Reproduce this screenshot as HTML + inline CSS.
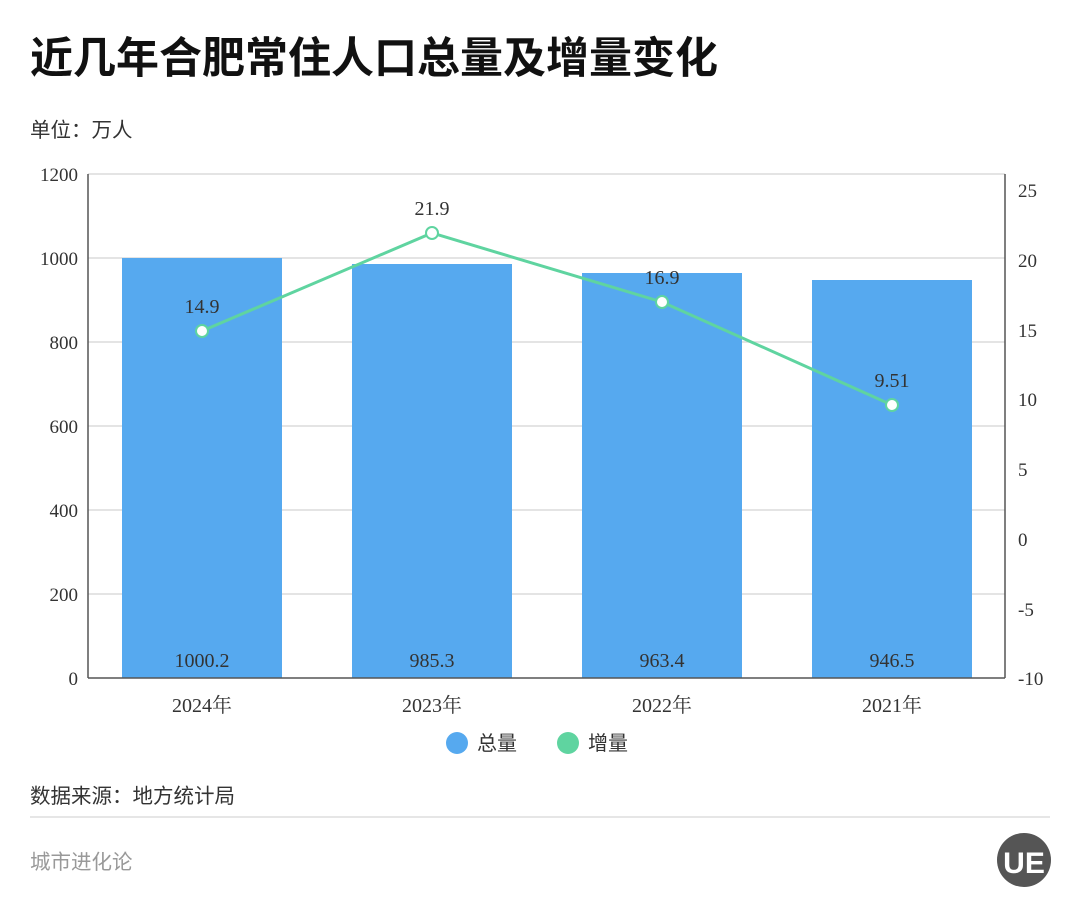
<!DOCTYPE html>
<html><head><meta charset="utf-8"><style>
body{margin:0;width:1080px;height:918px;background:#fff;overflow:hidden;font-family:"Liberation Serif","Noto Serif CJK SC",serif;}
</style></head><body>
<svg width="1080" height="918" xmlns="http://www.w3.org/2000/svg">
<text x="30" y="73" font-family="Liberation Sans, Noto Sans CJK SC, sans-serif" font-weight="bold" font-size="43" fill="#111">近几年合肥常住人口总量及增量变化</text>
<text x="30" y="137" font-family="Liberation Sans, Noto Sans CJK SC, sans-serif" font-size="20.5" fill="#333">单位：万人</text>
<g stroke="#dcdcdc" stroke-width="1.5">
<line x1="88" y1="174" x2="1005" y2="174"/><line x1="88" y1="258" x2="1005" y2="258"/><line x1="88" y1="342" x2="1005" y2="342"/><line x1="88" y1="426" x2="1005" y2="426"/><line x1="88" y1="510" x2="1005" y2="510"/><line x1="88" y1="594" x2="1005" y2="594"/>
</g>
<g fill="#56a9ef">
<rect x="122" y="258" width="160" height="420"/><rect x="352" y="264" width="160" height="414"/><rect x="582" y="273" width="160" height="405"/><rect x="812" y="280" width="160" height="398"/>
</g>
<g stroke="#555" stroke-width="1.5">
<line x1="88" y1="174" x2="88" y2="678"/><line x1="1005" y1="174" x2="1005" y2="678"/><line x1="88" y1="678" x2="1005" y2="678"/>
</g>
<g font-size="19" fill="#333" text-anchor="end" font-family="Liberation Serif, serif">
<text x="78" y="181">1200</text><text x="78" y="265">1000</text><text x="78" y="349">800</text><text x="78" y="433">600</text><text x="78" y="517">400</text><text x="78" y="601">200</text><text x="78" y="685">0</text>
</g>
<g font-size="19" fill="#333" font-family="Liberation Serif, serif">
<text x="1018" y="197">25</text><text x="1018" y="267">20</text><text x="1018" y="337">15</text><text x="1018" y="406">10</text><text x="1018" y="476">5</text><text x="1018" y="546">0</text><text x="1018" y="616">-5</text><text x="1018" y="685">-10</text>
</g>
<g font-size="20" fill="#333" text-anchor="middle" font-family="Liberation Serif, Noto Serif CJK SC, serif">
<text x="202" y="667">1000.2</text><text x="432" y="667">985.3</text><text x="662" y="667">963.4</text><text x="892" y="667">946.5</text>
<text x="202" y="712">2024年</text><text x="432" y="712">2023年</text><text x="662" y="712">2022年</text><text x="892" y="712">2021年</text>
<text x="202" y="313">14.9</text><text x="432" y="215">21.9</text><text x="662" y="284">16.9</text><text x="892" y="387">9.51</text>
</g>
<polyline points="202,331 432,233 662,302 892,405" fill="none" stroke="#5fd4a0" stroke-width="3"/>
<g fill="#fff" stroke="#5fd4a0" stroke-width="2">
<circle cx="202" cy="331" r="6"/><circle cx="432" cy="233" r="6"/><circle cx="662" cy="302" r="6"/><circle cx="892" cy="405" r="6"/>
</g>
<circle cx="457" cy="743" r="11" fill="#56a9ef"/>
<text x="477" y="750" font-size="20" fill="#333" font-family="Liberation Sans, Noto Sans CJK SC, sans-serif">总量</text>
<circle cx="568" cy="743" r="11" fill="#5fd4a0"/>
<text x="588" y="750" font-size="20" fill="#333" font-family="Liberation Sans, Noto Sans CJK SC, sans-serif">增量</text>
<text x="30" y="803" font-size="20.5" fill="#333" font-family="Liberation Sans, Noto Sans CJK SC, sans-serif">数据来源：地方统计局</text>
<line x1="30" y1="817" x2="1050" y2="817" stroke="#ddd" stroke-width="1.5"/>
<text x="30" y="869" font-size="20.5" fill="#999" font-family="Liberation Sans, Noto Sans CJK SC, sans-serif">城市进化论</text>
<circle cx="1024" cy="860" r="27" fill="#555"/>
<text x="1024" y="873" font-size="30" fill="#fff" text-anchor="middle" font-family="Liberation Sans, sans-serif" font-weight="bold">UE</text>
</svg>
</body></html>
